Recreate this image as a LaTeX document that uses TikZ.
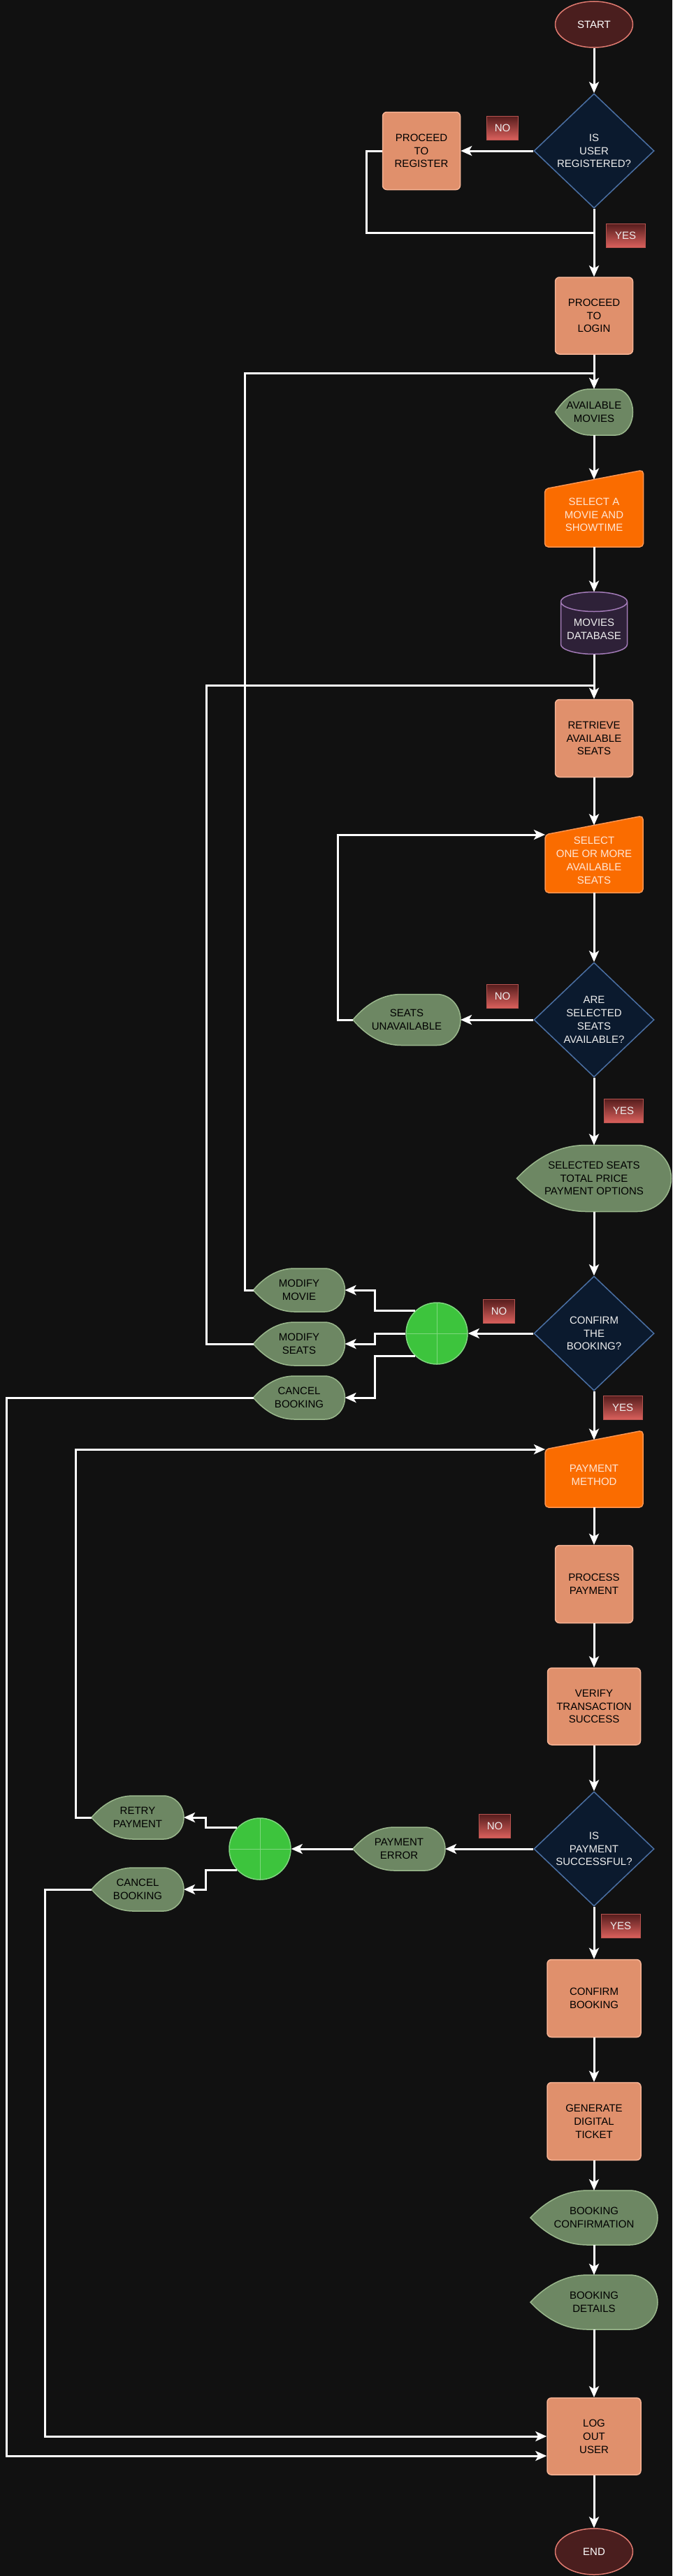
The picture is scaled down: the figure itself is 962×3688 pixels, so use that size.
\documentclass[tikz,border=0pt]{standalone}
\usepackage{fontspec}
\setmainfont{Liberation Sans}
\usetikzlibrary{shapes.geometric,arrows.meta}

\definecolor{canvas}{HTML}{111111}
\definecolor{procfill}{HTML}{E0906C}
\definecolor{procline}{HTML}{F7B394}
\definecolor{decfill}{HTML}{0B1A2E}
\definecolor{decline}{HTML}{4A6FA3}
\definecolor{dispfill}{HTML}{6D8763}
\definecolor{displine}{HTML}{9AB78C}
\definecolor{manfill}{HTML}{FA6C00}
\definecolor{manline}{HTML}{FF9550}
\definecolor{mantext}{HTML}{FFE6D5}
\definecolor{dbfill}{HTML}{2E2138}
\definecolor{dbline}{HTML}{A37BB8}
\definecolor{termfill}{HTML}{4A1E1E}
\definecolor{termline}{HTML}{E07A70}
\definecolor{orfill}{HTML}{3DC43D}
\definecolor{orline}{HTML}{7ED77E}
\definecolor{anstop}{HTML}{541C1C}
\definecolor{ansbot}{HTML}{DA605C}
\definecolor{ansline}{HTML}{B85450}
\definecolor{lighttext}{HTML}{EDEDED}

\newcommand{\flowfont}{\fontsize{15pt}{18.8pt}\selectfont}

\makeatletter
\pgfdeclareshape{dispshape}{%
  \inheritsavedanchors[from=rectangle]%
  \inheritanchorborder[from=rectangle]%
  \inheritanchor[from=rectangle]{center}%
  \inheritanchor[from=rectangle]{north}%
  \inheritanchor[from=rectangle]{south}%
  \inheritanchor[from=rectangle]{west}%
  \inheritanchor[from=rectangle]{east}%
  \anchor{text}{\pgfpointorigin}%
  \backgroundpath{%
    \southwest \edef\ds@xa{\the\pgf@x}\edef\ds@ya{\the\pgf@y}%
    \northeast \edef\ds@xb{\the\pgf@x}\edef\ds@yb{\the\pgf@y}%
    \pgfmathsetlengthmacro\ds@ym{(\ds@ya+\ds@yb)/2}%
    \pgfmathsetlengthmacro\ds@xp{\ds@xa+0.2*(\ds@xb-\ds@xa)}%
    \pgfmathsetlengthmacro\ds@xq{\ds@xa+0.45*(\ds@xb-\ds@xa)}%
    \pgfmathsetlengthmacro\ds@xr{\ds@xa+0.78*(\ds@xb-\ds@xa)}%
    \pgfmathsetlengthmacro\ds@xs{\ds@xr+0.552*(\ds@xb-\ds@xr)}%
    \pgfmathsetlengthmacro\ds@yt{\ds@ym+0.552*(\ds@yb-\ds@ym)}%
    \pgfmathsetlengthmacro\ds@yu{\ds@ym-0.552*(\ds@yb-\ds@ym)}%
    \pgfpathmoveto{\pgfpoint{\ds@xa}{\ds@ym}}%
    \pgfpathquadraticcurveto{\pgfpoint{\ds@xp}{\ds@yb}}{\pgfpoint{\ds@xq}{\ds@yb}}%
    \pgfpathlineto{\pgfpoint{\ds@xr}{\ds@yb}}%
    \pgfpathcurveto{\pgfpoint{\ds@xs}{\ds@yb}}{\pgfpoint{\ds@xb}{\ds@yt}}{\pgfpoint{\ds@xb}{\ds@ym}}%
    \pgfpathcurveto{\pgfpoint{\ds@xb}{\ds@yu}}{\pgfpoint{\ds@xs}{\ds@ya}}{\pgfpoint{\ds@xr}{\ds@ya}}%
    \pgfpathlineto{\pgfpoint{\ds@xq}{\ds@ya}}%
    \pgfpathquadraticcurveto{\pgfpoint{\ds@xp}{\ds@ya}}{\pgfpoint{\ds@xa}{\ds@ym}}%
    \pgfpathclose}%
}
\pgfdeclareshape{manualshape}{%
  \inheritsavedanchors[from=rectangle]%
  \inheritanchorborder[from=rectangle]%
  \inheritanchor[from=rectangle]{center}%
  \inheritanchor[from=rectangle]{north}%
  \inheritanchor[from=rectangle]{south}%
  \inheritanchor[from=rectangle]{west}%
  \inheritanchor[from=rectangle]{east}%
  \anchor{text}{\pgfpoint{0pt}{-9pt}}%
  \anchor{slant}{\southwest \pgf@xa=\pgf@x \northeast
    \advance\pgf@x by \pgf@xa \pgf@x=.5\pgf@x \advance\pgf@y by -13.5pt}%
  \anchor{corner}{\southwest \pgf@xa=\pgf@x \northeast \pgf@x=\pgf@xa \advance\pgf@y by -27pt}%
  \backgroundpath{%
    \southwest \edef\mi@xa{\the\pgf@x}\edef\mi@ya{\the\pgf@y}%
    \northeast \edef\mi@xb{\the\pgf@x}\edef\mi@yb{\the\pgf@y}%
    \pgfmathsetlengthmacro\mi@yc{\mi@yb-27pt}%
    \pgfmathsetlengthmacro\mi@xm{(\mi@xa+\mi@xb)/2}%
    \pgfpathmoveto{\pgfpoint{\mi@xm}{\mi@ya}}%
    \pgfpathlineto{\pgfpoint{\mi@xb}{\mi@ya}}%
    \pgfpathlineto{\pgfpoint{\mi@xb}{\mi@yb}}%
    \pgfpathlineto{\pgfpoint{\mi@xa}{\mi@yc}}%
    \pgfpathlineto{\pgfpoint{\mi@xa}{\mi@ya}}%
    \pgfpathclose}%
}
\pgfdeclareshape{dbshape}{%
  \inheritsavedanchors[from=rectangle]%
  \inheritanchorborder[from=rectangle]%
  \inheritanchor[from=rectangle]{center}%
  \inheritanchor[from=rectangle]{north}%
  \inheritanchor[from=rectangle]{south}%
  \inheritanchor[from=rectangle]{west}%
  \inheritanchor[from=rectangle]{east}%
  \anchor{text}{\pgfpoint{0pt}{-9pt}}%
  \backgroundpath{%
    \southwest \edef\db@xa{\the\pgf@x}\edef\db@ya{\the\pgf@y}%
    \northeast \edef\db@xb{\the\pgf@x}\edef\db@yb{\the\pgf@y}%
    \pgfmathsetlengthmacro\db@rx{(\db@xb-\db@xa)/2}%
    \pgfmathsetlengthmacro\db@yt{\db@yb-14pt}%
    \pgfmathsetlengthmacro\db@yl{\db@ya+14pt}%
    \pgfpathmoveto{\pgfpoint{\db@xa}{\db@yt}}%
    \pgfpathlineto{\pgfpoint{\db@xa}{\db@yl}}%
    \pgfpatharc{180}{360}{\db@rx and 14pt}%
    \pgfpathlineto{\pgfpoint{\db@xb}{\db@yt}}%
    \pgfpatharc{0}{180}{\db@rx and 14pt}%
    \pgfpathclose
    \pgfpathmoveto{\pgfpoint{\db@xa}{\db@yt}}%
    \pgfpatharc{180}{360}{\db@rx and 14pt}}%
}
\makeatother

\begin{document}
\begin{tikzpicture}[x=1pt,y=-1pt,
    every node/.style={font=\flowfont,align=center},
    procbox/.style={rectangle,rounded corners=6pt,fill=procfill,draw=procline,line width=1.5pt,
      minimum width=111pt,minimum height=111pt,inner sep=1pt,text=black},
    decbox/.style={diamond,fill=decfill,draw=decline,line width=1.5pt,
      minimum width=172pt,minimum height=164pt,inner sep=0pt,text=lighttext},
    dispbox/.style={dispshape,fill=dispfill,draw=displine,line width=1.5pt,
      minimum width=131pt,minimum height=62pt,inner sep=0pt,outer sep=0pt,text=black},
    manbox/.style={manualshape,rounded corners=5pt,fill=manfill,draw=manline,line width=1.5pt,
      minimum width=140pt,minimum height=110pt,inner sep=0pt,outer sep=0pt,text=mantext},
    dbbox/.style={dbshape,fill=dbfill,draw=dbline,line width=1.5pt,
      minimum width=95pt,minimum height=89pt,inner sep=0pt,outer sep=0pt,text=lighttext},
    termbox/.style={ellipse,fill=termfill,draw=termline,line width=1.5pt,
      minimum width=111pt,minimum height=66pt,inner sep=0pt,text=white},
    orbox/.style={circle,fill=orfill,draw=orline,line width=1.5pt,minimum size=88pt,inner sep=0pt,
      path picture={\draw[orline,line width=1pt] (path picture bounding box.north) -- (path picture bounding box.south)
        (path picture bounding box.west) -- (path picture bounding box.east);}},
    answer/.style={rectangle,top color=anstop,bottom color=ansbot,draw=ansline,line width=1pt,
      minimum width=45pt,minimum height=34pt,inner sep=0pt,text=lighttext}]
  \tikzstyle{flow}=[draw=white,line width=3pt,-{Stealth[length=16pt,width=14pt,inset=4pt]}]
  \tikzstyle{link}=[draw=white,line width=3pt]

  \useasboundingbox (0,0) rectangle (962,3688);
  \fill[canvas] (0,0) rectangle (962,3688);

  \node[termbox] (start) at (850,35) {START};
  \node[decbox] (isreg) at (850,216) {IS\\USER\\REGISTERED?};
  \node[procbox] (reg) at (603,216) {PROCEED\\TO\\REGISTER};
  \node[answer] (no1) at (719,183) {NO};
  \node[answer,minimum width=56pt] (yes1) at (895,337) {YES};
  \node[procbox,minimum height=110pt] (login) at (850,452) {PROCEED\\TO\\LOGIN};
  \node[dispbox,minimum width=111pt,minimum height=66pt] (movies) at (850,590) {AVAILABLE\\MOVIES};
  \node[manbox,minimum width=141pt] (pickmovie) at (850,728) {SELECT A\\MOVIE AND\\SHOWTIME};
  \node[dbbox] (moviedb) at (850,892) {MOVIES\\DATABASE};
  \node[procbox] (fetchseats) at (850,1057) {RETRIEVE\\AVAILABLE\\SEATS};
  \node[manbox] (pickseats) at (850,1223) {SELECT\\ONE OR MORE\\AVAILABLE\\SEATS};
  \node[decbox] (seatsok) at (850,1460) {ARE\\SELECTED\\SEATS\\AVAILABLE?};
  \node[dispbox,minimum width=154pt,minimum height=73pt] (noseats) at (582,1460) {SEATS\\UNAVAILABLE};
  \node[answer] (no2) at (719,1426) {NO};
  \node[answer,minimum width=56pt] (yes2) at (892,1590) {YES};
  \node[dispbox,minimum width=221pt,minimum height=95pt] (summary) at (850,1687) {SELECTED SEATS\\TOTAL PRICE\\PAYMENT OPTIONS};
  \node[decbox] (confirm) at (850,1909) {CONFIRM\\THE\\BOOKING?};
  \node[orbox] (choice1) at (625,1909) {};
  \node[answer] (no3) at (714,1877) {NO};
  \node[dispbox] (modmovie) at (428,1847) {MODIFY\\MOVIE};
  \node[dispbox] (modseats) at (428,1924) {MODIFY\\SEATS};
  \node[dispbox] (cancel1) at (428,2001) {CANCEL\\BOOKING};
  \node[answer,minimum width=56pt] (yes3) at (891,2015) {YES};
  \node[manbox] (paymethod) at (850,2103) {PAYMENT\\METHOD};
  \node[procbox] (process) at (850,2268) {PROCESS\\PAYMENT};
  \node[procbox,minimum width=133pt,minimum height=110pt] (verify) at (850,2443) {VERIFY\\TRANSACTION\\SUCCESS};
  \node[decbox] (paid) at (850,2647) {IS\\PAYMENT\\SUCCESSFUL?};
  \node[dispbox,minimum width=132pt] (payerror) at (571,2647) {PAYMENT\\ERROR};
  \node[answer] (no4) at (708,2614) {NO};
  \node[orbox] (choice2) at (372,2647) {};
  \node[dispbox,minimum width=132pt] (retry) at (197,2602) {RETRY\\PAYMENT};
  \node[dispbox,minimum width=132pt] (cancel2) at (197,2705) {CANCEL\\BOOKING};
  \node[answer,minimum width=56pt] (yes4) at (888,2757) {YES};
  \node[procbox,minimum width=134pt] (bookok) at (850,2861) {CONFIRM\\BOOKING};
  \node[procbox,minimum width=134pt] (ticket) at (850,3037) {GENERATE\\DIGITAL\\TICKET};
  \node[dispbox,minimum width=182pt,minimum height=78pt] (bookmsg) at (850,3175) {BOOKING\\CONFIRMATION};
  \node[dispbox,minimum width=182pt,minimum height=78pt] (details) at (850,3296) {BOOKING\\DETAILS};
  \node[procbox,minimum width=134pt,minimum height=110pt] (logout) at (850,3488) {LOG\\OUT\\USER};
  \node[termbox] (finish) at (850,3653) {END};

  \coordinate (j1) at (850,333);
  \coordinate (j2) at (850,534);
  \coordinate (j3) at (850,981);

  \draw[flow] (start.south) -- (isreg.north);
  \draw[flow] (isreg.west) -- (reg.east);
  \draw[link] (reg.west) -- ++(-22,0) |- (j1);
  \draw[flow] (isreg.south) -- (login.north);
  \draw[flow] (login.south) -- (movies.north);
  \draw[flow] (movies.south) -- (pickmovie.slant);
  \draw[flow] (pickmovie.south) -- (moviedb.north);
  \draw[flow] (moviedb.south) -- (fetchseats.north);
  \draw[flow] (fetchseats.south) -- (pickseats.slant);
  \draw[flow] (pickseats.south) -- (seatsok.north);
  \draw[flow] (seatsok.west) -- (noseats.east);
  \draw[flow] (noseats.west) -- ++(-22,0) |- (pickseats.corner);
  \draw[flow] (seatsok.south) -- (summary.north);
  \draw[flow] (summary.south) -- (confirm.north);
  \draw[flow] (confirm.west) -- (choice1.east);
  \draw[flow] (choice1.133) -- ++(-58,0) |- (modmovie.east);
  \draw[flow] (choice1.west) -- ++(-44,0) |- (modseats.east);
  \draw[flow] (choice1.227) -- ++(-58,0) |- (cancel1.east);
  \draw[link] (modmovie.west) -- ++(-12.5,0) |- (j2);
  \draw[link] (modseats.west) -- ++(-67.5,0) |- (j3);
  \draw[flow] (cancel1.west) -- ++(-353,0) |- ([yshift=-28pt]logout.west);
  \draw[flow] (confirm.south) -- (paymethod.slant);
  \draw[flow] (paymethod.south) -- (process.north);
  \draw[flow] (process.south) -- (verify.north);
  \draw[flow] (verify.south) -- (paid.north);
  \draw[flow] (paid.west) -- (payerror.east);
  \draw[flow] (payerror.west) -- (choice2.east);
  \draw[flow] (choice2.137) -- ++(-45,0) |- (retry.east);
  \draw[flow] (choice2.223) -- ++(-45,0) |- (cancel2.east);
  \draw[flow] (retry.west) -- ++(-23,0) |- (paymethod.corner);
  \draw[flow] (cancel2.west) -- ++(-67,0) |- (logout.west);
  \draw[flow] (paid.south) -- (bookok.north);
  \draw[flow] (bookok.south) -- (ticket.north);
  \draw[flow] (ticket.south) -- (bookmsg.north);
  \draw[flow] (bookmsg.south) -- (details.north);
  \draw[flow] (details.south) -- (logout.north);
  \draw[flow] (logout.south) -- (finish.north);
\end{tikzpicture}
\end{document}
